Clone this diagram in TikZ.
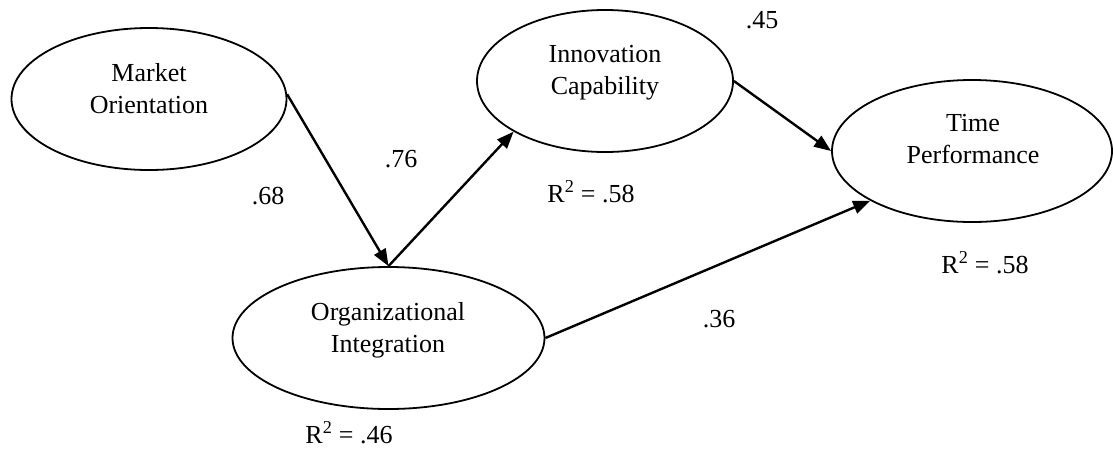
\documentclass[tikz,border=0pt]{standalone}
\usepackage{fontspec}
\setmainfont{Liberation Serif}
\usetikzlibrary{shapes.geometric,arrows.meta}
\begin{document}
\begin{tikzpicture}[x=1pt,y=-1pt,
  latent/.style={draw,ellipse,line width=1.8pt,inner sep=0pt,minimum height=142pt},
  lbl/.style={inner sep=0pt,anchor=base,font=\fontsize{26}{32}\selectfont},
  ttl/.style={inner sep=0pt,anchor=base,align=center,font=\fontsize{26}{32}\selectfont},
  path/.style={line width=2.4pt,-{Triangle[length=17pt,width=13pt]}}]
\useasboundingbox (0,0) rectangle (1113,448);
% latent variables
\node[latent,minimum width=275pt] (mo) at (149,99) {};
\node[latent,minimum width=256pt] (ic) at (605,81) {};
\node[latent,minimum width=280pt] (tp) at (972,151) {};
\node[latent,minimum width=312pt] (oi) at (388.5,338) {};
% titles (anchor=base is the baseline of the last line)
\node[ttl] (mot) at (149,113) {Market\\Orientation};
\node[ttl] (ict) at (605,94) {Innovation\\Capability};
\node[ttl] (tpt) at (973,163) {Time\\Performance};
\node[ttl] (oit) at (388,352) {Organizational\\Integration};
% paths
\draw[path] (mo.2) -- (oi.north);
\draw[path] (oi.north) -- (ic.209.5);
\draw[path] (ic.east) -- (tp.west);
\draw[path] (oi.east) -- (tp.206.8);
% coefficients
\node[lbl] (c1) at (268,204) {.68};
\node[lbl] (c2) at (401,167) {.76};
\node[lbl] (c3) at (762,28) {.45};
\node[lbl] (c4) at (719,327) {.36};
\node[lbl] (r1) at (591,202) {R\textsuperscript{2} = .58};
\node[lbl] (r2) at (985,273) {R\textsuperscript{2} = .58};
\node[lbl] (r3) at (349,443) {R\textsuperscript{2} = .46};
\end{tikzpicture}
\end{document}
